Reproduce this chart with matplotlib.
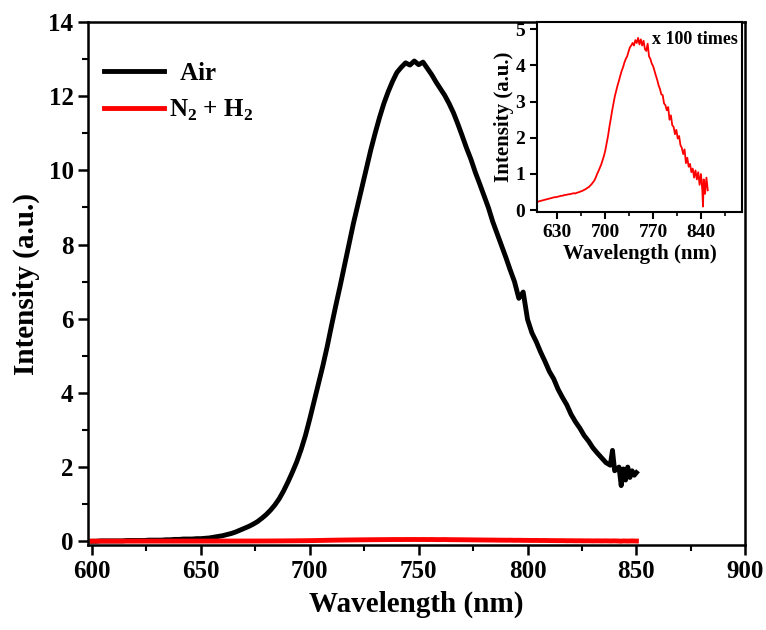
import numpy as np
import matplotlib
matplotlib.use("Agg")
import matplotlib.pyplot as plt
from matplotlib.ticker import MultipleLocator

plt.rcParams["font.family"] = ["Liberation Serif", "DejaVu Serif"]
plt.rcParams["font.weight"] = "bold"
plt.rcParams["mathtext.fontset"] = "custom"
plt.rcParams["mathtext.rm"] = "Liberation Serif:bold"
plt.rcParams["mathtext.bf"] = "Liberation Serif:bold"

# Emission spectrum measured in air (a.u.)
air_wavelength = list(range(600, 838, 2)) + [838, 839, 840, 842, 843, 844, 845, 846, 847, 848, 849, 850]
air_intensity = [
    0.00, 0.00, 0.01, 0.01, 0.01, 0.01, 0.01, 0.01, 0.02, 0.02,   # 600-618
    0.02, 0.02, 0.02, 0.03, 0.03, 0.03, 0.03, 0.04, 0.04, 0.05,   # 620-638
    0.05, 0.06, 0.06, 0.06, 0.07, 0.07, 0.08, 0.09, 0.11, 0.13,   # 640-658
    0.15, 0.18, 0.21, 0.25, 0.30, 0.35, 0.40, 0.46, 0.53, 0.62,   # 660-678
    0.72, 0.84, 0.98, 1.15, 1.36, 1.60, 1.86, 2.14, 2.47, 2.85,   # 680-698
    3.30, 3.78, 4.26, 4.73, 5.25, 5.82, 6.37, 6.90, 7.45, 8.00,   # 700-718
    8.56, 9.06, 9.55, 10.05, 10.55, 11.00, 11.42, 11.80, 12.12, 12.40,  # 720-738
    12.64, 12.78, 12.90, 12.84, 12.95, 12.85, 12.92, 12.75, 12.58, 12.38,  # 740-758
    12.20, 12.02, 11.80, 11.55, 11.25, 10.93, 10.60, 10.30, 9.95, 9.64,  # 760-778
    9.32, 9.00, 8.62, 8.30, 7.98, 7.66, 7.32, 7.00, 6.55, 6.72,   # 780-798
    5.98, 5.62, 5.38, 5.10, 4.85, 4.58, 4.38, 4.10, 3.88, 3.68,   # 800-818
    3.42, 3.22, 3.05, 2.85, 2.70, 2.52, 2.38, 2.25, 2.12,         # 820-836
    2.05, 2.45, 1.90, 2.00, 1.50, 1.95, 1.65, 2.00, 1.72, 1.90, 1.78, 1.85,
]

# Emission spectrum under N2 + H2, shown x100 in the inset
n2h2_wavelength = list(range(600, 844, 2)) + [843, 844, 846, 848, 850]
n2h2_x100 = [
    0.22, 0.24, 0.25, 0.26, 0.27, 0.28, 0.29, 0.30, 0.31, 0.32,   # 600-618
    0.33, 0.34, 0.35, 0.36, 0.36, 0.37, 0.38, 0.39, 0.40, 0.40,   # 620-638
    0.42, 0.42, 0.43, 0.44, 0.44, 0.45, 0.46, 0.47, 0.46, 0.48,   # 640-658
    0.49, 0.50, 0.52, 0.53, 0.55, 0.57, 0.59, 0.62, 0.64, 0.68,   # 660-678
    0.72, 0.77, 0.82, 0.90, 1.00, 1.08, 1.17, 1.26, 1.38, 1.50,   # 680-698
    1.65, 1.85, 2.05, 2.30, 2.52, 2.75, 2.95, 3.15, 3.30, 3.45,   # 700-718
    3.58, 3.72, 3.85, 3.95, 4.08, 4.18, 4.25, 4.38, 4.50, 4.55,   # 720-738
    4.62, 4.55, 4.70, 4.62, 4.76, 4.58, 4.72, 4.55, 4.68, 4.45,   # 740-758
    4.40, 4.60, 4.25, 4.18, 4.05, 3.98, 3.85, 3.72, 3.60, 3.45,   # 760-778
    3.35, 3.20, 3.18, 2.95, 2.90, 2.76, 2.85, 2.50, 2.62, 2.35,   # 780-798
    2.30, 2.10, 2.22, 1.98, 2.05, 1.80, 1.72, 1.55, 1.68, 1.30,   # 800-818
    1.45, 1.20, 1.28, 1.05, 1.15, 0.90, 1.10, 0.85, 1.05, 0.70,   # 820-838
    1.00, 0.55,                                                   # 840-842
    0.10, 0.85, 0.45, 0.90, 0.55,
]
n2h2_intensity = np.array(n2h2_x100) / 100.0

main_xticks = [600, 650, 700, 750, 800, 850, 900]
main_yticks = [0, 2, 4, 6, 8, 10, 12, 14]
inset_xticks = [630, 700, 770, 840]
inset_yticks = [0, 1, 2, 3, 4, 5]

fig = plt.figure(figsize=(7.66, 6.3), dpi=100)
ax = fig.add_axes([0.115, 0.135, 0.858, 0.830])

ax.plot(air_wavelength, air_intensity, color="black", lw=3.5, label="  Air")
ax.plot(n2h2_wavelength, n2h2_intensity, color="red", lw=3.5,
        label=r"N$_2$ + H$_2$")

ax.set_xlim(598.2, 900)
ax.set_ylim(-0.1, 14)
ax.set_xticks(main_xticks)
ax.set_yticks(main_yticks)
ax.xaxis.set_minor_locator(MultipleLocator(25))
ax.yaxis.set_minor_locator(MultipleLocator(1))
ax.tick_params(which="major", direction="out", length=7, width=1.8, labelsize=18)
ax.tick_params(which="minor", direction="out", length=4, width=1.5)
for s in ax.spines.values():
    s.set_linewidth(1.8)
ax.set_xlabel("Wavelength (nm)", fontsize=21, fontweight="bold", labelpad=6)
ax.set_ylabel("Intensity (a.u.)", fontsize=21, fontweight="bold", labelpad=6)

ax.legend(loc="upper left", bbox_to_anchor=(-0.01, 0.967), frameon=False,
          handlelength=2.4, handletextpad=0.2, labelspacing=0.5,
          prop={"weight": "bold", "size": 18})

# inset: N2 + H2 spectrum magnified
axin = fig.add_axes([0.701, 0.6635, 0.2676, 0.3016])
axin.plot(n2h2_wavelength, n2h2_x100, color="red", lw=1.3)
axin.set_xlim(600, 900)
axin.set_ylim(-0.05, 5.2)
axin.set_xticks(inset_xticks)
axin.set_yticks(inset_yticks)
axin.xaxis.set_minor_locator(MultipleLocator(35))
axin.tick_params(which="major", direction="out", length=5, width=1.5, labelsize=14)
axin.tick_params(which="minor", direction="out", length=3, width=1.2)
for s in axin.spines.values():
    s.set_linewidth(1.5)
axin.set_xlabel("Wavelength (nm)", fontsize=15, fontweight="bold", labelpad=2)
axin.set_ylabel("Intensity (a.u.)", fontsize=15, fontweight="bold", labelpad=1)
axin.text(0.98, 0.95, "x 100 times", transform=axin.transAxes, ha="right",
          va="top", fontsize=13, fontweight="bold")

fig.savefig("out.png", dpi=100)
